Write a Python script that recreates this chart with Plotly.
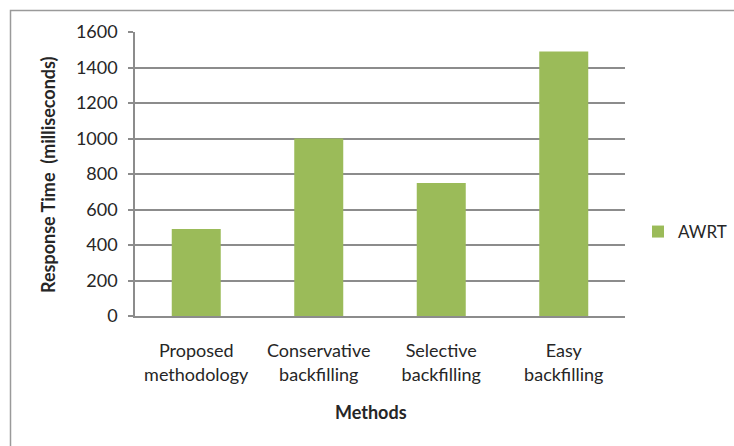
import plotly.graph_objects as go

# Average waiting/response time per scheduling method
methods = ["Proposed<br>methodology", "Conservative<br>backfilling",
           "Selective<br>backfilling", "Easy<br>backfilling"]
awrt = [490, 1000, 750, 1490]
y_ticks = [0, 200, 400, 600, 800, 1000, 1200, 1400, 1600]

W, H = 734, 446
L, R, T, B = 135, 109, 32, 130
pw, ph = W - L - R, H - T - B

def px(x):  # pixel x -> paper x
    return (x - L) / pw

def py(y):  # pixel y -> paper y
    return (H - B - y) / ph

font = "Lato, 'Open Sans', sans-serif"
txt = "#262626"

fig = go.Figure(go.Bar(
    x=methods, y=awrt, name="AWRT",
    marker=dict(color="#9BBB59", line=dict(width=0)),
    showlegend=True,
))

fig.update_layout(
    width=W, height=H,
    margin=dict(l=L, r=R, t=T, b=B, autoexpand=False),
    paper_bgcolor="white", plot_bgcolor="white",
    bargap=0.6,
    font=dict(family=font, size=18, color=txt),
    legend=dict(x=px(638), y=py(232), xanchor="left", yanchor="middle",
                font=dict(size=17, color=txt), itemwidth=30,
                bgcolor="rgba(0,0,0,0)"),
    xaxis=dict(
        showline=True, linecolor="#8c8c8c", linewidth=1.5,
        ticks="", showgrid=False, ticklabelstandoff=18,
        tickfont=dict(size=18, color=txt),
    ),
    yaxis=dict(
        range=[0, 1600], tickvals=y_ticks,
        showline=True, linecolor="#8c8c8c", linewidth=1.5,
        ticks="outside", ticklen=5, tickcolor="#8c8c8c", tickwidth=1.5,
        showgrid=True, gridcolor="#8c8c8c", gridwidth=1.5,
        zeroline=False, ticklabelstandoff=7,
        tickfont=dict(size=18, color=txt),
    ),
    annotations=[
        dict(text="<b>Response Time  (milliseconds)</b>", textangle=-90,
             x=px(48), y=py(175), xref="paper", yref="paper",
             xanchor="center", yanchor="middle",
             showarrow=False, font=dict(size=18, color=txt)),
        dict(text="<b>Methods</b>",
             x=px(371), y=py(412), xref="paper", yref="paper",
             xanchor="center", yanchor="middle",
             showarrow=False, font=dict(size=18, color=txt)),
    ],
    shapes=[
        dict(type="rect", xref="paper", yref="paper", layer="below",
             x0=px(10.5), x1=px(760), y0=py(470), y1=py(10.5),
             line=dict(color="#9a9a9a", width=1.5)),
    ],
)

fig.write_html("out.html")
